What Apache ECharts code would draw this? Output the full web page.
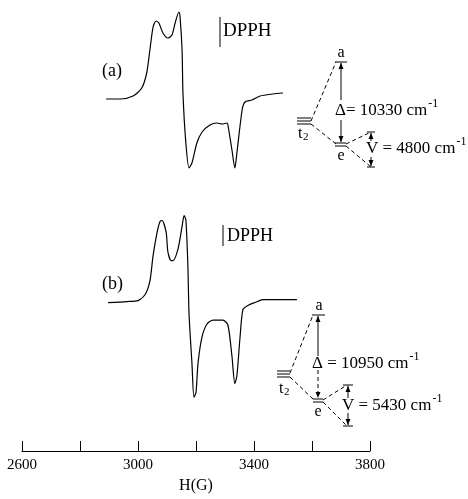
<!DOCTYPE html>
<html>
<head>
<meta charset="utf-8">
<script src="https://cdn.jsdelivr.net/npm/echarts@6/dist/echarts.min.js"></script>
<style>
html,body{margin:0;padding:0;background:#fff;}
#chart{width:468px;height:499px;}
</style>
</head>
<body>
<div id="chart"></div>
<script>
// ---- Data (field H in gauss, derivative intensity in arbitrary units) ----
var fieldA = [2890,2938,2983,3013,3030,3041,3052,3062,3072,3086,3103,3117,3128,3141,3145,3152,3155,3165,3176,3186,3203,3221,3248,3272,3290,3307,3310,3324,3334,3341,3359,3369,3393,3421,3465,3500];
var intensityA = [0,0,3,11,26,49,72,78,76,66,61,64,76,87,82,49,6,-44,-69,-64,-44,-33,-26,-24,-25,-24,-26,-51,-69,-54,-11,-3,-1,3,5,6];
var fieldB = [2897,2962,3000,3024,3041,3052,3066,3076,3083,3097,3103,3114,3121,3138,3152,3159,3165,3172,3176,3186,3193,3200,3207,3221,3238,3259,3293,3310,3324,3334,3341,3352,3362,3379,3403,3431,3465,3548];
var intensityB = [-1,0,1,7,21,47,71,82,83,71,51,42,42,54,77,88,84,37,-13,-63,-98,-93,-63,-36,-23,-19,-19,-24,-56,-84,-76,-36,-8,-4,-1,2,2,2];
var tickLabels = [2600, 3000, 3400, 3800];
var xMin = 2600, xMax = 3800, xStep = 200;

function zip(xs, ys){ return xs.map(function(x,i){ return [x, ys[i]]; }); }

var FONT = '"Liberation Serif", "DejaVu Serif", serif';
var mctx = document.createElement('canvas').getContext('2d');
function width(s,size){ mctx.font = size+'px '+FONT; return mctx.measureText(s).width; }
var G = [];
function line(x1,y1,x2,y2,dash){
  G.push({type:'line', shape:{x1:x1,y1:y1,x2:x2,y2:y2}, style:{stroke:'#000', lineWidth:1, lineDash: dash ? [4,3] : null}, silent:true});
}
function txt(s,x,y,size,align){
  G.push({type:'text', x:x, y:y, style:{text:s, font: size+'px '+FONT, fill:'#000', align: align||'left', verticalAlign:'middle'}, silent:true});
}
function txtSup(s,sup,x,y,size){
  txt(s,x,y,size);
  txt(sup, x + width(s,size) + 1, y - size*0.42, Math.round(size*0.72));
}
function arrowUp(x,y){ G.push({type:'polygon', shape:{points:[[x,y],[x-2.5,y+6],[x+2.5,y+6]]}, style:{fill:'#000'}, silent:true}); }
function arrowDown(x,y){ G.push({type:'polygon', shape:{points:[[x,y],[x-2.5,y-6],[x+2.5,y-6]]}, style:{fill:'#000'}, silent:true}); }

// labels (a), (b)
txt('(a)',102,71,18);
txt('(b)',102,284,18);
// DPPH markers
line(220,17,220,47); txt('DPPH',223,31,19);
line(223,225,223,246); txt('DPPH',227,236,18);

// ---- energy diagram (a) ----
line(297,118,311,118); line(297,121,311,121); line(297,124,311,124);
txt('t',298,134,16); txt('2',303,137,11);
line(311,121,336,62,true);
line(311,124,336,144,true);
line(335,62,347,62); txt('a',341,53,16,'center');
line(335,143,346,143); line(335,146,346,146); txt('e',341,156,16,'center');
line(341,63,341,100); arrowUp(341,63);
line(341,120,341,142); arrowDown(341,142);
txtSup('\u0394= 10330 cm','-1',335,111,17);
line(346,144,371,132,true); line(346,146,371,167,true);
line(367,132,375,132); line(367,167,375,167);
line(371,133,371,141); arrowUp(371,133);
line(371,157,371,166); arrowDown(371,166);
txtSup('V = 4800 cm','-1',366,149,17);

// ---- energy diagram (b) ----
line(277,371,290,371); line(277,374,290,374); line(277,377,290,377);
txt('t',279,389,16); txt('2',284,392,11);
line(290,373,313,315,true);
line(290,377,314,400,true);
line(312,315,325,315); txt('a',319,306,16,'center');
line(313,399,323,399); line(313,402,323,402); txt('e',318,412,16,'center');
line(318,316,318,356); arrowUp(318,316);
line(318,370,318,398,true); arrowDown(318,398);
txtSup('\u0394 = 10950 cm','-1',312,364,17);
line(323,400,347,385,true); line(323,402,347,426,true);
line(343,385,353,385); line(343,426,353,426);
line(348,386,348,398); arrowUp(348,386);
line(348,413,348,425); arrowDown(348,425);
txtSup('V = 5430 cm','-1',342,406,17);

var chart = echarts.init(document.getElementById('chart'), null, {renderer:'canvas'});
chart.setOption({
  animation:false,
  backgroundColor:'#fff',
  grid:[
    {left:22, width:348, top:0, height:179},
    {left:22, width:348, top:200, height:257}
  ],
  xAxis:[
    {gridIndex:0, type:'value', min:xMin, max:xMax, interval:xStep, show:false},
    {gridIndex:1, type:'value', min:xMin, max:xMax, interval:xStep,
     axisLine:{show:true, onZero:false, lineStyle:{color:'#000', width:1}},
     axisTick:{show:true, inside:true, length:10, lineStyle:{color:'#000', width:1}},
     splitLine:{show:false},
     axisLabel:{margin:7, color:'#000', fontSize:15, fontFamily:FONT,
       formatter:function(v){ return tickLabels.indexOf(v) >= 0 ? String(v) : ''; }},
     name:'H(G)', nameLocation:'middle', nameGap:27,
     nameTextStyle:{color:'#000', fontSize:16, fontFamily:FONT}}
  ],
  yAxis:[
    {gridIndex:0, type:'value', min:-80, max:99, show:false},
    {gridIndex:1, type:'value', min:-153, max:104, show:false}
  ],
  series:[
    {type:'line', xAxisIndex:0, yAxisIndex:0, data:zip(fieldA,intensityA), showSymbol:false, smooth:0.25,
     lineStyle:{color:'#000', width:1.2}},
    {type:'line', xAxisIndex:1, yAxisIndex:1, data:zip(fieldB,intensityB), showSymbol:false, smooth:0.25,
     lineStyle:{color:'#000', width:1.2}}
  ],
  graphic: G
});
</script>
</body>
</html>
